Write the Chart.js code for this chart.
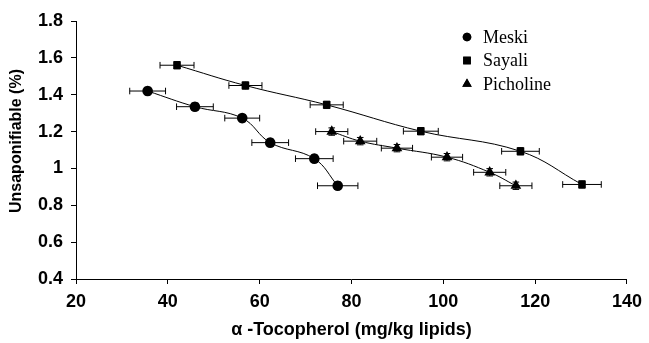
<!DOCTYPE html>
<html>
<head>
<meta charset="utf-8">
<script src="https://cdn.jsdelivr.net/npm/chart.js@4.4.1/dist/chart.umd.min.js"></script>
<style>
  html, body { margin: 0; padding: 0; background: #fff; }
  #wrap { width: 649px; height: 343px; position: relative; }
</style>
</head>
<body>
<div id="wrap"><canvas id="tocoChart"></canvas></div>
<script>
// values
const seriesNames = ['Meski', 'Sayali', 'Picholine'];

const meskiX    = [35.6, 45.9, 56.2, 62.3, 71.9, 77.0];
const meskiY    = [1.42, 1.335, 1.273, 1.14, 1.053, 0.906];
const meskiXErr = [3.9, 4.0, 3.8, 4.0, 4.1, 4.4];

const sayaliX    = [42.0, 56.9, 74.6, 95.1, 116.8, 130.2];
const sayaliY    = [1.56, 1.45, 1.345, 1.202, 1.093, 0.913];
const sayaliXErr = [3.7, 3.6, 3.6, 3.8, 4.1, 4.2];

const picholineX    = [75.7, 81.9, 89.9, 100.8, 110.1, 115.8];
const picholineY    = [1.20, 1.148, 1.110, 1.061, 0.979, 0.906];
const picholineXErr = [3.5, 3.6, 3.4, 3.4, 3.5, 3.5];

// small vertical error (mostly hidden behind markers)
const yErr = 0.02;

const xTickLabels = ['20', '40', '60', '80', '100', '120', '140'];
const yTickLabels = ['0.4', '0.6', '0.8', '1', '1.2', '1.4', '1.6', '1.8'];

const xTitle = 'α -Tocopherol (mg/kg lipids)';
const yTitle = 'Unsaponifiable (%)';

const sansBold = '"Liberation Sans", Arial, sans-serif';

function toPoints(xs, ys, errs) {
    return xs.map((x, i) => ({ x: x, y: ys[i], xErr: errs[i] }));
}

// draws horizontal (and tiny vertical) error bars using the chart scales
const errorBars = {
    id: 'errorBars',
    beforeDatasetsDraw(chart) {
        const ctx = chart.ctx;
        const xs = chart.scales.x;
        const ys = chart.scales.y;
        const cap = 3.3;
        ctx.save();
        ctx.strokeStyle = '#000';
        ctx.lineWidth = 1;
        chart.data.datasets.forEach(ds => {
            ds.data.forEach(p => {
                const x0 = xs.getPixelForValue(p.x - p.xErr);
                const x1 = xs.getPixelForValue(p.x + p.xErr);
                const yc = ys.getPixelForValue(p.y);
                const xc = xs.getPixelForValue(p.x);
                const yt = ys.getPixelForValue(p.y + yErr);
                const yb = ys.getPixelForValue(p.y - yErr);
                ctx.beginPath();
                ctx.moveTo(x0, yc); ctx.lineTo(x1, yc);
                ctx.moveTo(x0, yc - cap); ctx.lineTo(x0, yc + cap);
                ctx.moveTo(x1, yc - cap); ctx.lineTo(x1, yc + cap);
                ctx.moveTo(xc, yt); ctx.lineTo(xc, yb);
                ctx.moveTo(xc - cap, yt); ctx.lineTo(xc + cap, yt);
                ctx.moveTo(xc - cap, yb); ctx.lineTo(xc + cap, yb);
                ctx.stroke();
            });
        });
        ctx.restore();
    }
};

// legend inside the plot (upper right) and the rotated y title
const extras = {
    id: 'extras',
    afterDraw(chart) {
        const ctx = chart.ctx;
        const mx = 467, tx = 483, y0 = 37, dy = 23.5;
        ctx.save();
        ctx.fillStyle = '#000';
        ctx.font = '18px "Liberation Serif", "Times New Roman", serif';
        ctx.textBaseline = 'middle';
        chart.data.datasets.forEach((ds, i) => {
            const y = y0 + i * dy;
            Chart.helpers.drawPoint(ctx, {
                pointStyle: ds.pointStyle,
                radius: ds.legendRadius,
                borderWidth: 0
            }, mx, y);
            ctx.fill();
            ctx.fillText(ds.label, tx, y + 1);
        });

        ctx.translate(17, 141);
        ctx.rotate(-Math.PI / 2);
        ctx.textAlign = 'center';
        ctx.font = 'bold 16px ' + sansBold;
        ctx.fillText(yTitle, 0, 0);
        ctx.restore();
    }
};

const ctx = document.getElementById('tocoChart').getContext('2d');

const tocoChart = new Chart(ctx, {
    type: 'scatter',
    data: {
        datasets: [{
            label: seriesNames[0],
            data: toPoints(meskiX, meskiY, meskiXErr),
            pointStyle: 'circle',
            pointRadius: 5.3,
            legendRadius: 4.3
        }, {
            label: seriesNames[1],
            data: toPoints(sayaliX, sayaliY, sayaliXErr),
            pointStyle: 'rect',
            pointRadius: 5.4,
            legendRadius: 5.4
        }, {
            label: seriesNames[2],
            data: toPoints(picholineX, picholineY, picholineXErr),
            pointStyle: 'triangle',
            pointRadius: 6.2,
            legendRadius: 5.5
        }].map(ds => Object.assign(ds, {
            showLine: true,
            tension: 0.4,
            borderColor: '#000',
            borderWidth: 1,
            backgroundColor: '#000',
            pointBackgroundColor: '#000',
            pointBorderColor: '#000',
            pointBorderWidth: 0,
            pointHoverRadius: 6
        }))
    },
    options: {
        responsive: true,
        maintainAspectRatio: false,
        animation: false,
        layout: {
            padding: { top: 21, right: 18, bottom: 0, left: 0 }
        },
        plugins: {
            legend: { display: false },
            tooltip: { enabled: false }
        },
        scales: {
            x: {
                type: 'linear',
                min: 20,
                max: 140,
                afterFit(scale) { scale.height = 64; },
                afterBuildTicks(scale) {
                    scale.ticks = xTickLabels.map(t => ({ value: Number(t) }));
                },
                border: { display: true, color: '#000', width: 1 },
                grid: { display: true, drawOnChartArea: false, drawTicks: true, tickLength: 5, color: '#000' },
                ticks: {
                    color: '#000',
                    padding: 7,
                    maxRotation: 0,
                    font: { family: sansBold, size: 18, weight: 'bold' },
                    callback: (v) => xTickLabels[xTickLabels.indexOf(String(v))] || ''
                },
                title: {
                    display: true,
                    text: xTitle,
                    color: '#000',
                    padding: { top: 0, bottom: 2 },
                    font: { family: sansBold, size: 18, weight: 'bold' }
                }
            },
            y: {
                type: 'linear',
                min: 0.4,
                max: 1.8,
                afterFit(scale) { scale.width = 76; },
                afterBuildTicks(scale) {
                    scale.ticks = yTickLabels.map(t => ({ value: Number(t) }));
                },
                border: { display: true, color: '#000', width: 1 },
                grid: { display: true, drawOnChartArea: false, drawTicks: true, tickLength: 5, color: '#000' },
                ticks: {
                    color: '#000',
                    padding: 8,
                    font: { family: sansBold, size: 18, weight: 'bold' },
                    callback: (v) => yTickLabels.find(t => Math.abs(Number(t) - v) < 1e-6) || ''
                }
            }
        }
    },
    plugins: [errorBars, extras]
});
</script>
</body>
</html>
